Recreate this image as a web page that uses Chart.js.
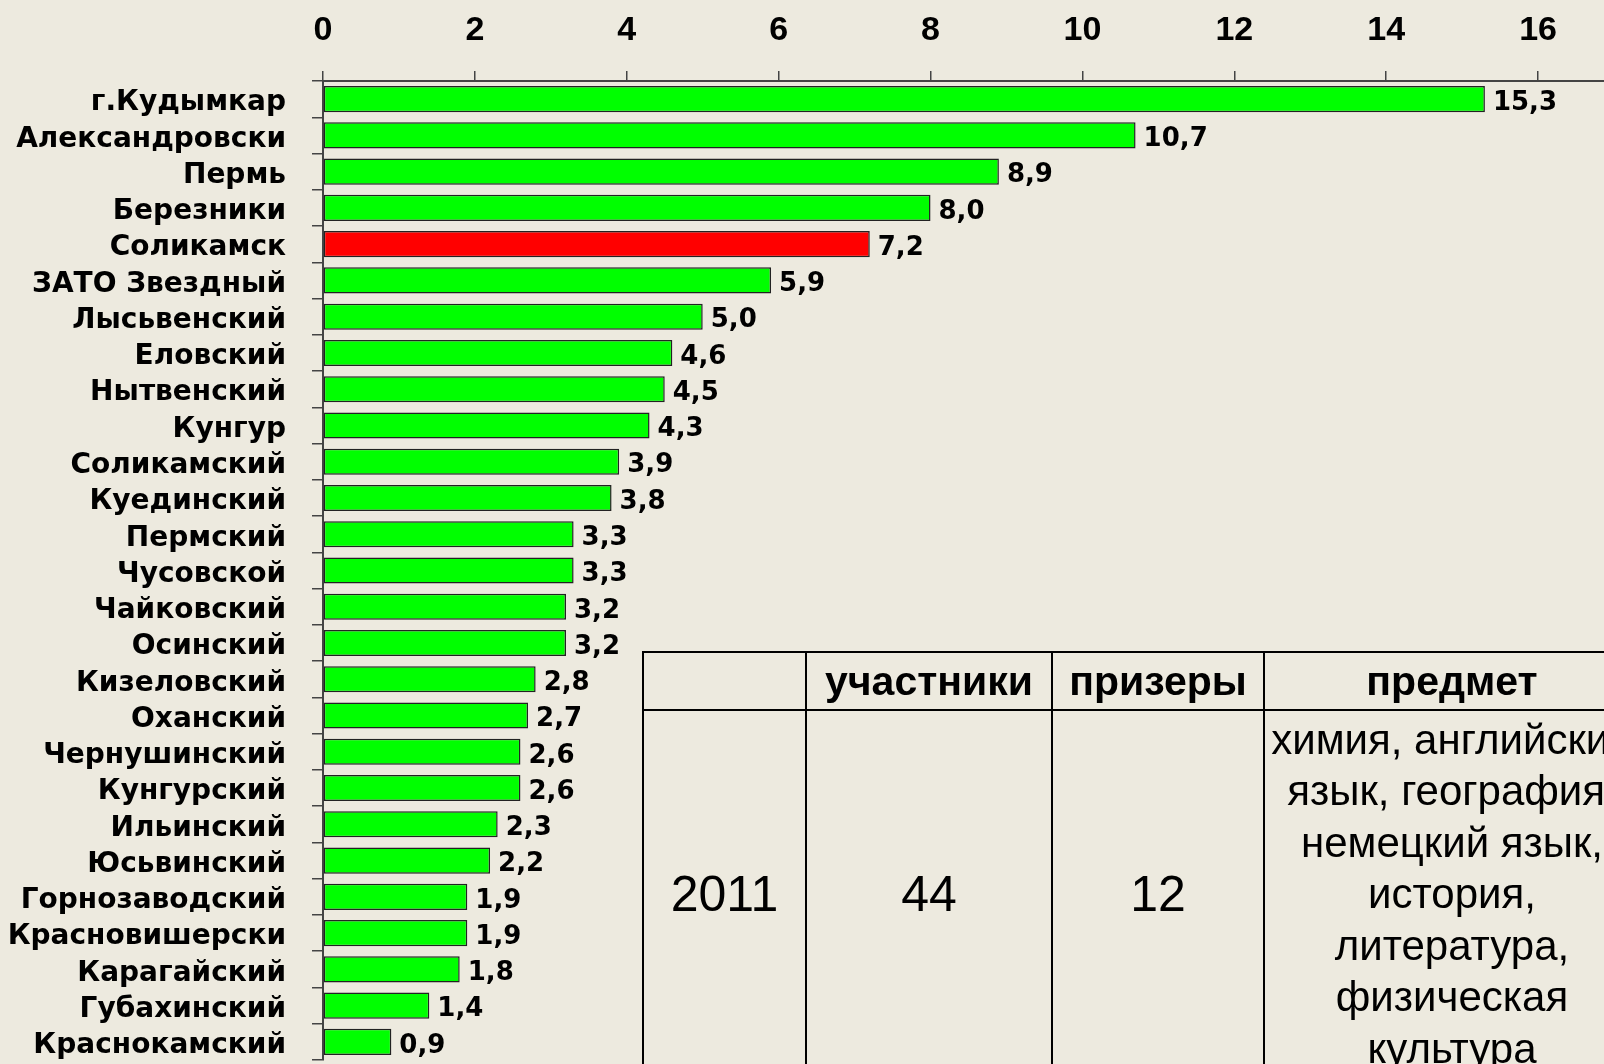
<!DOCTYPE html>
<html>
<head>
<meta charset="utf-8">
<script src="https://cdn.jsdelivr.net/npm/chart.js@4"></script>
<style>
    html, body { margin: 0; padding: 0; background: #edeadf; overflow: hidden; width: 1604px; height: 1064px; }
    #chart { position: absolute; left: 0; top: 0; }
    #info {
        position: absolute; left: 642px; top: 651px; width: 997px;
        border-collapse: collapse; table-layout: fixed;
        font-family: "Liberation Sans", Arial, sans-serif; color: #000;
    }
    #info td { border: 2px solid #000; text-align: center; padding: 0; }
    #info tr.head td { height: 56px; font-weight: bold; font-size: 41px; }
    #info tr.body td { height: 366px; font-size: 50px; }
    #info tr.body td.subj { font-size: 42px; line-height: 51.5px; white-space: nowrap; }
</style>
</head>
<body>
<canvas id="chart" width="1620" height="1064"></canvas>
<table id="info">
    <colgroup>
        <col style="width:163px"><col style="width:246px"><col style="width:212px"><col style="width:376px">
    </colgroup>
    <tr class="head"><td></td><td>участники</td><td>призеры</td><td>предмет</td></tr>
    <tr class="body"><td>2011</td><td>44</td><td>12</td>
        <td class="subj">химия, английский<br>язык, география,<br>немецкий язык,<br>история,<br>литература,<br>физическая<br>культура</td></tr>
</table>
<script>
const categories = ['г.Кудымкар', 'Александровски', 'Пермь', 'Березники', 'Соликамск', 'ЗАТО Звездный',
    'Лысьвенский', 'Еловский', 'Нытвенский', 'Кунгур', 'Соликамский', 'Куединский', 'Пермский',
    'Чусовской', 'Чайковский', 'Осинский', 'Кизеловский', 'Оханский', 'Чернушинский', 'Кунгурский',
    'Ильинский', 'Юсьвинский', 'Горнозаводский', 'Красновишерски', 'Карагайский', 'Губахинский', 'Краснокамский'];
const values = [15.3, 10.7, 8.9, 8.0, 7.2, 5.9, 5.0, 4.6, 4.5, 4.3, 3.9, 3.8, 3.3, 3.3, 3.2, 3.2,
    2.8, 2.7, 2.6, 2.6, 2.3, 2.2, 1.9, 1.9, 1.8, 1.4, 0.9];
const highlighted = 'Соликамск';

// value labels at the end of each bar, with a comma decimal
const valueLabels = {
    id: 'valueLabels',
    afterDatasetsDraw(chart) {
        let ctx = chart.ctx;
        ctx.save();
        ctx.font = 'bold 26px "DejaVu Sans"';
        ctx.fillStyle = '#000';
        ctx.textAlign = 'left';
        ctx.textBaseline = 'middle';
        chart.getDatasetMeta(0).data.forEach((bar, i) => {
            ctx.fillText(values[i].toFixed(1).replace('.', ','), bar.x + 8, bar.y + 4);
        });
        ctx.restore();
    }
};

let barChart = new Chart(document.getElementById('chart'), {
    type: 'bar',
    data: {
        labels: categories,
        datasets: [{
            data: values,
            backgroundColor: categories.map(c => c === highlighted ? '#ff0000' : '#00ff00'),
            borderColor: '#222',
            borderWidth: 1.5,
            borderSkipped: false,
            barPercentage: 0.72,
            categoryPercentage: 1
        }]
    },
    options: {
        indexAxis: 'y',
        responsive: false,
        animation: false,
        devicePixelRatio: 1,
        layout: { padding: { top: 0, right: 6, bottom: 4, left: 0 } },
        plugins: {
            legend: { display: false },
            tooltip: { enabled: false }
        },
        scales: {
            x: {
                position: 'top',
                min: 0,
                max: 17,
                afterFit: scale => { scale.height = 81; },
                ticks: {
                    stepSize: 2,
                    includeBounds: false,
                    padding: 20,
                    color: '#000',
                    font: { family: '"Liberation Sans"', weight: 'bold', size: 34 }
                },
                grid: { drawOnChartArea: false, tickLength: 10, color: '#444', lineWidth: 1.5 },
                border: { color: '#444', width: 2 }
            },
            y: {
                afterFit: scale => {
                    scale.width = 323;
                    scale.paddingTop = 0;
                    scale.paddingBottom = 0;
                },
                ticks: {
                    autoSkip: false,
                    padding: 26,
                    labelOffset: 4,
                    color: '#000',
                    font: { family: '"DejaVu Sans"', weight: 'bold', size: 28 }
                },
                grid: { drawOnChartArea: false, offset: true, tickLength: 11, color: '#444', lineWidth: 1.5 },
                border: { color: '#444', width: 2 }
            }
        }
    },
    plugins: [valueLabels]
});
</script>
</body>
</html>
